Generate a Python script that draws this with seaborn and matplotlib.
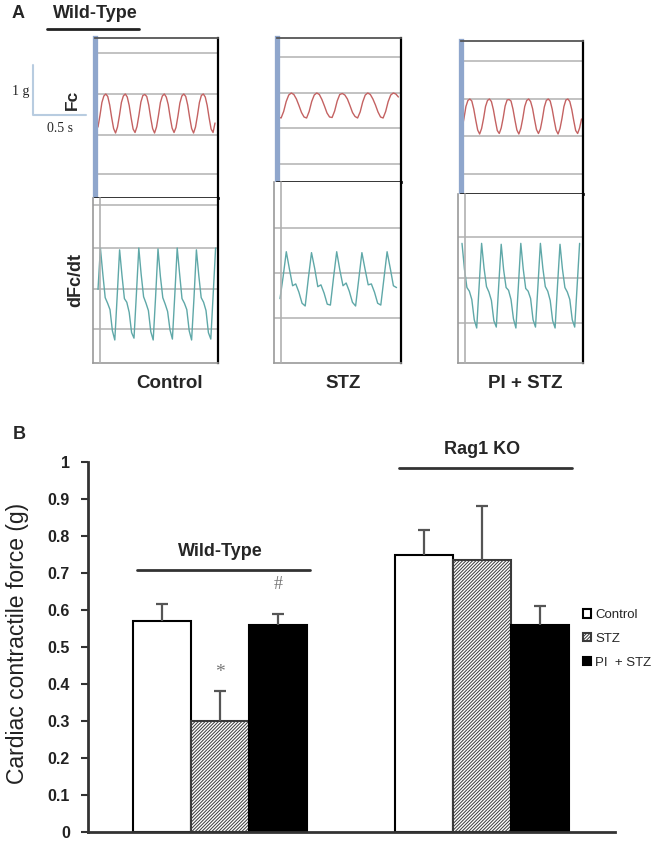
import numpy as np
import pandas as pd
import matplotlib
matplotlib.use('Agg')
import matplotlib.pyplot as plt
import seaborn as sns

# ---- panel B values ----
groups = ['Wild-Type', 'Rag1 KO']
treatments = ['Control', 'STZ', 'PI  + STZ']
force_wt = [0.57, 0.30, 0.56]
force_rag = [0.75, 0.735, 0.56]
err_wt = [0.045, 0.08, 0.03]
err_rag = [0.065, 0.145, 0.05]
y_ticks = [0, 0.1, 0.2, 0.3, 0.4, 0.5, 0.6, 0.7, 0.8, 0.9, 1]
y_tick_labels = ['0', '0.1', '0.2', '0.3', '0.4', '0.5', '0.6', '0.7', '0.8', '0.9', '1']

# ---- panel A traces (Fc in g, dFc/dt in relative units) ----
fc_control = [0.12, 0.35, 0.61, 0.74,
              0.78, 0.73, 0.56, 0.31, 0.09, 0.00, 0.12, 0.35, 0.61, 0.74,
              0.78, 0.72, 0.55, 0.30, 0.08, 0.01, 0.13, 0.36, 0.62, 0.75,
              0.77, 0.73, 0.56, 0.31, 0.09, 0.00, 0.12, 0.35, 0.61, 0.74,
              0.78, 0.72, 0.57, 0.32, 0.10, 0.01, 0.11, 0.34, 0.60, 0.74,
              0.78, 0.73, 0.56, 0.31, 0.09, 0.00, 0.12, 0.35, 0.61, 0.75,
              0.78, 0.72, 0.55, 0.30, 0.08, 0.01, 0.20]
fc_stz = [0.11, 0.02, 0.00, 0.13, 0.33, 0.46,
          0.50, 0.47, 0.38, 0.25, 0.11, 0.02, 0.00, 0.13, 0.33, 0.46,
          0.50, 0.47, 0.37, 0.24, 0.10, 0.02, 0.01, 0.14, 0.34, 0.47,
          0.49, 0.46, 0.38, 0.25, 0.11, 0.03, 0.00, 0.12, 0.32, 0.46,
          0.50, 0.47, 0.38, 0.26, 0.12, 0.02, 0.00, 0.13, 0.33, 0.46,
          0.50, 0.48, 0.42]
fc_pi = [0.11, 0.31, 0.55, 0.67,
         0.70, 0.66, 0.50, 0.28, 0.08, 0.00, 0.11, 0.31, 0.55, 0.67,
         0.70, 0.65, 0.49, 0.27, 0.07, 0.01, 0.12, 0.32, 0.56, 0.68,
         0.69, 0.66, 0.50, 0.28, 0.08, 0.00, 0.11, 0.31, 0.55, 0.67,
         0.70, 0.65, 0.51, 0.29, 0.09, 0.01, 0.10, 0.30, 0.54, 0.67,
         0.70, 0.66, 0.50, 0.28, 0.08, 0.00, 0.11, 0.31, 0.55, 0.68,
         0.70, 0.65, 0.49, 0.27, 0.07, 0.01, 0.12, 0.30]
dfc_control = [0.55,
               1.00, 0.72, 0.46, 0.40, 0.33, 0.10, 0.00, 0.48,
               0.98, 0.70, 0.45, 0.41, 0.30, 0.08, 0.02, 0.50,
               1.00, 0.71, 0.47, 0.40, 0.32, 0.09, 0.00, 0.47,
               0.99, 0.69, 0.46, 0.39, 0.31, 0.11, 0.01, 0.49,
               1.00, 0.72, 0.45, 0.40, 0.33, 0.10, 0.00, 0.46,
               0.98, 0.70, 0.46, 0.41, 0.32, 0.08, 0.01, 0.50,
               1.00]
dfc_stz = [0.08, 0.32, 0.59, 0.40, 0.22, 0.24, 0.15, 0.03, 0.00, 0.30,
           0.58, 0.41, 0.21, 0.23, 0.14, 0.02, 0.01, 0.31,
           0.59, 0.39, 0.22, 0.25, 0.16, 0.04, 0.00, 0.29,
           0.58, 0.40, 0.23, 0.24, 0.15, 0.03, 0.01, 0.30,
           0.59, 0.41, 0.22, 0.20]
dfc_pi = [0.92, 0.64, 0.44, 0.40, 0.31, 0.09, 0.00, 0.46,
          0.92, 0.65, 0.45, 0.39, 0.30, 0.08, 0.01, 0.47,
          0.91, 0.63, 0.44, 0.41, 0.31, 0.10, 0.00, 0.45,
          0.92, 0.64, 0.43, 0.40, 0.32, 0.09, 0.01, 0.46,
          0.92, 0.65, 0.45, 0.40, 0.30, 0.08, 0.00, 0.47,
          0.91, 0.64, 0.44, 0.39, 0.31, 0.09, 0.01, 0.46,
          0.92]

sns.set_style('white')
plt.rcParams['font.family'] = ['Liberation Sans', 'DejaVu Sans']
plt.rcParams['hatch.linewidth'] = 0.7

W, H = 660, 842
PX_S = 104.0   # px per second (0.5 s bar)
PX_G = 50.0    # px per g (1 g bar)
PX_D = 92.0    # px per dFc/dt unit

fig = plt.figure(figsize=(W / 100, H / 100), dpi=100)


def px_axes(l, t, r, b):
    return fig.add_axes([l / W, 1 - b / H, (r - l) / W, (b - t) / H])


def ftext(x, y, s, **kw):
    fig.text(x / W, 1 - y / H, s, **kw)


def fline(xs, ys, **kw):
    fig.add_artist(plt.Line2D([x / W for x in xs], [1 - y / H for y in ys],
                              transform=fig.transFigure, **kw))


def draw_trace(ax, vals, dt_px, start, base, scale, grid, color, l, t, r, b):
    df = pd.DataFrame({'t': np.arange(len(vals)) * dt_px / PX_S, 'v': vals})
    for g in grid:
        ax.axhline((base - g) / scale, color='#bdbdbd', lw=1.3, zorder=0)
    sns.lineplot(data=df, x='t', y='v', ax=ax, color=color, lw=1.0,
                 estimator=None, sort=False)
    ax.set_xlim(-(start - l) / PX_S, (r - start) / PX_S)
    ax.set_ylim(-(b - base) / scale, (base - t) / scale)
    ax.set_xticks([])
    ax.set_yticks([])
    ax.set_xlabel('')
    ax.set_ylabel('')


columns = [
    dict(label='Control', lx=170, l=93, r=218, t=38, d=198, b=363,
         fc=fc_control, fc_dt=1.95, fc_start=98, fc_base=133, fc_grid=[53, 94, 135, 174],
         dfc=dfc_control, dfc_dt=2.4, dfc_start=98, dfc_base=340, dfc_grid=[205, 248, 289, 329]),
    dict(label='STZ', lx=343, l=274, r=401, t=38, d=182, b=363,
         fc=fc_stz, fc_dt=2.55, fc_start=276, fc_base=118, fc_grid=[57, 93, 128, 164],
         dfc=dfc_stz, dfc_dt=3.15, dfc_start=280, dfc_base=306, dfc_grid=[228, 273, 318]),
    dict(label='PI + STZ', lx=525, l=458, r=583, t=41, d=194, b=363,
         fc=fc_pi, fc_dt=1.96, fc_start=462, fc_base=134, fc_grid=[61, 99, 136, 174],
         dfc=dfc_pi, dfc_dt=2.45, dfc_start=462, dfc_base=328, dfc_grid=[237, 278, 323]),
]

for c in columns:
    l, r, t, d, b = c['l'], c['r'], c['t'], c['d'], c['b']
    top = px_axes(l + 2.5, t, r, d)
    draw_trace(top, c['fc'], c['fc_dt'], c['fc_start'], c['fc_base'], PX_G,
               c['fc_grid'], '#c46262', l + 2.5, t, r, d)
    top.spines['left'].set_color('#8fa6cc')
    top.spines['left'].set_linewidth(3.8)
    top.spines['top'].set_color('#555555')
    top.spines['top'].set_linewidth(1.3)
    top.spines['right'].set_color('black')
    top.spines['right'].set_linewidth(1.6)
    top.spines['bottom'].set_color('#222222')
    top.spines['bottom'].set_linewidth(2.0)

    bot = px_axes(l, d, r, b)
    draw_trace(bot, c['dfc'], c['dfc_dt'], c['dfc_start'], c['dfc_base'], PX_D,
               c['dfc_grid'], '#5fa8a8', l, d, r, b)
    bot.spines['top'].set_visible(False)
    for s in ['left', 'bottom']:
        bot.spines[s].set_color('#9a9a9a')
        bot.spines[s].set_linewidth(1.2)
    bot.spines['right'].set_color('black')
    bot.spines['right'].set_linewidth(1.6)
    fline([l + 7, l + 7], [d, b], color='#b0b0b0', lw=1.2)

    ftext(c['lx'], 383, c['label'], ha='center', va='center',
          fontsize=13.5, fontweight='bold')

# panel A labels and scale bar
ftext(18, 13, 'A', ha='center', va='center', fontsize=13, fontweight='bold')
ftext(95, 14, 'Wild-Type', ha='center', va='center', fontsize=13, fontweight='bold')
fline([47, 139], [29, 29], color='#222222', lw=2)
fline([33, 33, 86], [65, 115, 115], color='#b8cce0', lw=1.5)
ftext(21, 92, '1 g', ha='center', va='center', fontsize=10, family='Liberation Serif')
ftext(60, 128, '0.5 s', ha='center', va='center', fontsize=10, family='Liberation Serif')
ftext(72, 100, 'Fc', ha='center', va='center', rotation=90, fontsize=12.5, fontweight='bold')
ftext(76, 280, 'dFc/dt', ha='center', va='center', rotation=90, fontsize=13, fontweight='bold')

# ---- panel B ----
ftext(19, 434, 'B', ha='center', va='center', fontsize=13, fontweight='bold')

df_b = pd.DataFrame({
    'group': np.repeat(groups, len(treatments)),
    'treatment': treatments * len(groups),
    'force': force_wt + force_rag,
})
errs = {0: err_wt, 1: err_rag}

axb = px_axes(88, 462, 615, 832)
sns.barplot(data=df_b, x='group', y='force', hue='treatment', hue_order=treatments,
            order=groups, palette=['white', 'white', 'black'], width=0.664,
            edgecolor='black', linewidth=1.5, errorbar=None, legend=False, ax=axb)
bar_sets = list(axb.containers)

for bar in bar_sets[1]:
    bar.set_hatch('//////////')
    bar.set_edgecolor('#3a3a3a')

for i, cont in enumerate(bar_sets):
    for j, bar in enumerate(cont):
        x = bar.get_x() + bar.get_width() / 2
        h = bar.get_height()
        _, caps, _ = axb.errorbar(x, h, yerr=[[0], [errs[j][i]]], color='#555555',
                                  lw=1.6, capsize=4, capthick=1.6, zorder=1)
        caps[0].set_visible(False)

axb.set_xlim(-0.504, 1.508)
axb.set_ylim(0, 1)
axb.set_xticks([])
axb.set_xlabel('')
axb.set_yticks(y_ticks)
axb.set_yticklabels(y_tick_labels, fontsize=11.5, fontweight='bold', color='#222222')
axb.tick_params(axis='y', direction='out', length=5, width=1.5, color='#333333', pad=8, left=True)
for s in ['top', 'right']:
    axb.spines[s].set_visible(False)
for s in ['left', 'bottom']:
    axb.spines[s].set_color('#333333')
    axb.spines[s].set_linewidth(2)
axb.set_ylabel('Cardiac contractile force (g)', fontsize=16.5, color='#222222')
axb.yaxis.set_label_coords(-0.112, 0.51)

# group labels with bars
for k, (lbl, yl, yt) in enumerate([('Wild-Type', 0.708, 0.757), ('Rag1 KO', 0.984, 1.035)]):
    x0 = bar_sets[0][k].get_x()
    x1 = bar_sets[2][k].get_x() + bar_sets[2][k].get_width()
    axb.plot([x0 + 0.015, x1 + 0.01], [yl, yl], color='#333333', lw=2, clip_on=False)
    axb.text((x0 + x1) / 2, yt, lbl, ha='center', va='center', fontsize=13,
             fontweight='bold', clip_on=False)

# significance marks
b_stz = bar_sets[1][0]
b_pi = bar_sets[2][0]
axb.text(b_stz.get_x() + b_stz.get_width() / 2, 0.43, '*', ha='center', va='center',
         fontsize=14, color='#777777', family='Liberation Serif')
axb.text(b_pi.get_x() + b_pi.get_width() / 2, 0.668, '#', ha='center', va='center',
         fontsize=13, color='#777777', family='Liberation Serif')

handles = [cont.patches[0] for cont in bar_sets]
axb.legend(handles, treatments, loc='upper left', bbox_to_anchor=(0.93, 0.617),
           frameon=False, fontsize=9.5, handlelength=0.6, handleheight=0.6,
           handletextpad=0.3, labelspacing=0.9, borderaxespad=0)

fig.savefig('out.png', dpi=100)
